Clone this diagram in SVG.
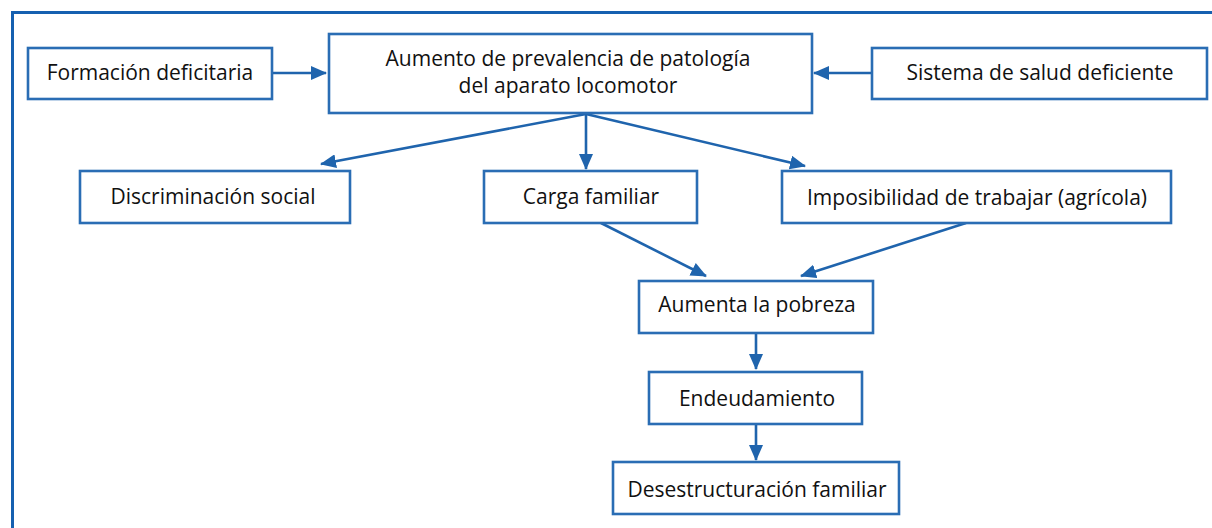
<svg xmlns="http://www.w3.org/2000/svg" width="1212" height="528" viewBox="0 0 1212 528">
<defs>
<style>
.box{fill:#fff;stroke:#2a6db4;stroke-width:2.6}
.lbl{font-family:"Open Sans","Liberation Sans",sans-serif;font-size:21px;fill:#111;text-anchor:middle}
.con{stroke:#1f64ad;stroke-width:2.6;fill:none;marker-end:url(#ah)}
</style>
<marker id="ah" markerWidth="16" markerHeight="14" refX="15" refY="7" orient="auto" markerUnits="userSpaceOnUse">
<path d="M0,0 L16,7 L0,14 Z" fill="#1f64ad"/>
</marker>
</defs>
<rect width="1212" height="528" fill="#fff"/>
<path d="M12.5,528 V12.5 H1212" fill="none" stroke="#1560b0" stroke-width="3"/>
<g id="connectors">
<line class="con" x1="273" y1="73" x2="326" y2="73"/>
<line class="con" x1="872" y1="73" x2="814" y2="73"/>
<line class="con" x1="586" y1="114" x2="321" y2="164"/>
<line class="con" x1="586" y1="114" x2="586" y2="169"/>
<line class="con" x1="586" y1="114" x2="805" y2="166"/>
<line class="con" x1="601" y1="223" x2="706" y2="276"/>
<line class="con" x1="966" y1="223" x2="801" y2="276"/>
<line class="con" x1="756" y1="333" x2="756" y2="369"/>
<line class="con" x1="756" y1="424" x2="756" y2="460"/>
</g>
<g id="n1"><rect class="box" x="28" y="48" width="244" height="51"/><text class="lbl" x="150" y="80">Formación deficitaria</text></g>
<g id="n2"><rect class="box" x="329" y="34" width="483" height="79"/><text class="lbl" x="568" y="66">Aumento de prevalencia de patología</text><text class="lbl" x="568" y="93">del aparato locomotor</text></g>
<g id="n3"><rect class="box" x="872" y="48" width="335" height="51"/><text class="lbl" x="1040" y="80">Sistema de salud deficiente</text></g>
<g id="n4"><rect class="box" x="80" y="171" width="270" height="52"/><text class="lbl" x="213" y="204">Discriminación social</text></g>
<g id="n5"><rect class="box" x="484" y="171" width="213" height="52"/><text class="lbl" x="591" y="204">Carga familiar</text></g>
<g id="n6"><rect class="box" x="782" y="171" width="389" height="52"/><text class="lbl" x="977" y="205">Imposibilidad de trabajar (agrícola)</text></g>
<g id="n7"><rect class="box" x="639" y="281" width="234" height="52"/><text class="lbl" x="757" y="312">Aumenta la pobreza</text></g>
<g id="n8"><rect class="box" x="649" y="372" width="213" height="52"/><text class="lbl" x="757" y="406">Endeudamiento</text></g>
<g id="n9"><rect class="box" x="613" y="462" width="286" height="52"/><text class="lbl" x="757" y="497">Desestructuración familiar</text></g>
</svg>
